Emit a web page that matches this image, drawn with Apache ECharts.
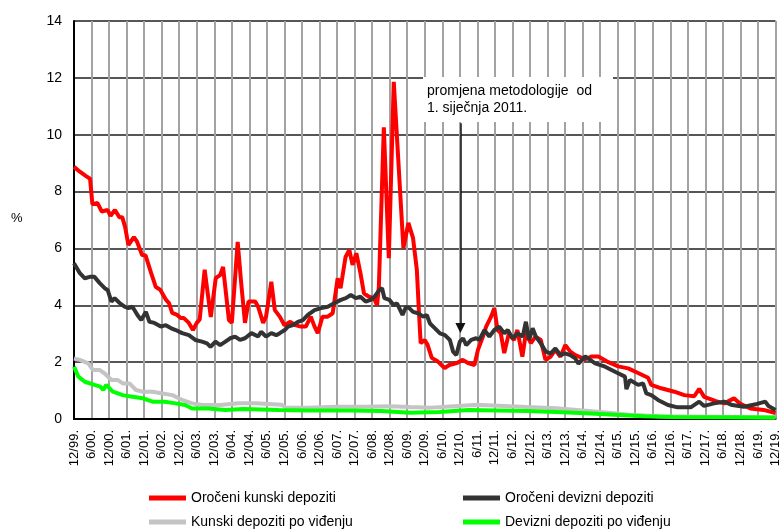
<!DOCTYPE html>
<html>
<head>
<meta charset="utf-8">
<script src="https://cdn.jsdelivr.net/npm/echarts@6/dist/echarts.min.js"></script>
<style>html,body{margin:0;padding:0;background:#fff}#c{width:782px;height:532px}</style>
</head>
<body>
<div id="c"></div>
<script>
// x = months since December 1999
const tickLabels = ["12/99.","6/00.","12/00.","6/01.","12/01.","6/02.","12/02.","6/03.","12/03.","6/04.","12/04.","6/05.","12/05.","6/06.","12/06.","6/07.","12/07.","6/08.","12/08.","6/09.","12/09.","6/10.","12/10.","6/11.","12/11.","6/12.","12/12.","6/13.","12/13.","6/14.","12/14.","6/15.","12/15.","6/16.","12/16.","6/17.","12/17.","6/18.","12/18.","6/19.","12/19."];
const seriesNames = ["Oročeni kunski depoziti","Oročeni devizni depoziti","Kunski depoziti po viđenju","Devizni depoziti po viđenju"];

const orocKunski = [[0,8.87],[2,8.7],[4,8.55],[5.5,8.45],[6.3,7.55],[8,7.6],[9.5,7.3],[11.5,7.35],[12.5,7.15],[14,7.35],[15.5,7.1],[16.5,7.1],[17.5,6.75],[18.6,6.12],[20.5,6.4],[21.5,6.25],[23.3,5.77],[24.5,5.75],[26.4,5.13],[28,4.64],[29.5,4.55],[31.5,4.19],[32.5,4.08],[33.6,3.73],[35.3,3.66],[36.5,3.55],[37.6,3.55],[39.3,3.38],[40.7,3.13],[42,3.38],[43,3.5],[44.7,5.25],[46.8,3.59],[48.5,4.96],[50,5.06],[51,5.35],[53,3.48],[54,3.38],[56,6.23],[57.2,4.78],[58.5,3.38],[59.7,4.13],[62,4.13],[63,3.95],[64.7,3.38],[65.7,3.6],[67.5,4.83],[68.7,3.83],[70.4,3.6],[72,3.3],[74,3.42],[75.7,3.3],[77.6,3.25],[79.3,3.25],[81,3.6],[82.3,3.25],[83.4,3.02],[85,3.6],[86.8,3.6],[88.5,3.72],[90.2,4.95],[91.2,4.6],[92.9,5.7],[94.2,5.95],[95.3,5.42],[96.6,5.83],[98,5.13],[99.2,4.42],[100.9,4.3],[102.6,4.25],[103.7,4.0],[104.3,4.65],[106,10.26],[107.7,5.66],[109.4,11.86],[112.7,6.0],[114.4,6.9],[116,6.36],[117.3,5.24],[118.1,3.6],[118.6,2.67],[120,2.78],[121,2.6],[122.4,2.15],[124.5,2.02],[126.8,1.79],[128.4,1.9],[131,1.97],[133,2.08],[134.8,1.97],[137,1.9],[138.2,2.43],[139.9,2.9],[141,3.25],[142.7,3.6],[143.8,3.9],[144.9,3.13],[146,3.02],[147.2,2.32],[148.8,3.02],[150.5,2.78],[151.7,3.13],[153.4,2.19],[154.6,3.02],[156.3,2.67],[157.9,2.9],[159.7,2.78],[161.3,2.08],[163,2.19],[164.7,2.43],[166.4,2.19],[168.1,2.6],[169.8,2.37],[171.5,2.25],[174.9,2.1],[177,2.2],[179.4,2.2],[182.8,2.0],[186.2,1.85],[189.6,1.78],[193,1.62],[196.4,1.45],[197.5,1.2],[200.9,1.08],[205.4,0.96],[208.8,0.84],[212.2,0.8],[213.9,1.06],[215.6,0.78],[219.6,0.63],[222.5,0.55],[225.8,0.73],[228,0.53],[231.4,0.37],[235.9,0.32],[240,0.21]];

const orocDevizni = [[0,5.48],[2,5.13],[3.7,4.95],[5.4,5.0],[7,5.0],[8.8,4.78],[10.5,4.6],[11.5,4.54],[12.8,4.13],[13.9,4.25],[15.6,4.08],[17.3,3.95],[18.6,3.9],[20,3.95],[21.7,3.66],[23,3.48],[24.6,3.77],[25.8,3.42],[27.5,3.38],[29.7,3.25],[31.4,3.3],[33.1,3.2],[34.8,3.13],[37,3.02],[39.3,2.95],[41.5,2.78],[43.8,2.72],[45.5,2.66],[46.7,2.54],[48.4,2.72],[50,2.6],[51.8,2.72],[53.4,2.84],[55.1,2.9],[56.8,2.78],[58.5,2.84],[60.7,3.02],[63,2.9],[64,3.07],[65.7,2.9],[67.5,3.02],[69.2,2.95],[70.4,3.02],[72.1,3.13],[73.2,3.25],[74.9,3.3],[76.6,3.42],[78.3,3.48],[80,3.66],[82.3,3.83],[84.5,3.9],[86.8,3.95],[89,4.07],[91.3,4.19],[93,4.25],[94.7,4.36],[96.4,4.25],[98,4.3],[99.8,4.13],[101.5,4.19],[102.8,4.3],[104.5,4.54],[105.4,4.6],[106.2,4.25],[107.9,4.19],[109.4,4.0],[110.5,4.07],[112.4,3.66],[113.6,3.95],[114.7,3.9],[116,3.77],[117.7,3.72],[119.5,3.6],[120.7,3.66],[121.8,3.36],[123.5,3.19],[125.2,3.01],[126.9,2.95],[128.6,2.78],[129.7,2.37],[130.8,2.25],[132,2.72],[133.1,2.84],[134.2,2.6],[135.9,2.78],[137.6,2.84],[138.7,2.78],[140.4,3.13],[142.1,2.9],[143.8,3.13],[145.5,3.25],[147.2,3.01],[148.4,3.13],[150,2.84],[151.8,3.01],[153.5,2.9],[154.6,3.42],[155.7,2.78],[156.9,3.19],[158,2.9],[159.7,2.66],[161.4,2.37],[163.1,2.31],[164.7,2.48],[166.4,2.25],[168,2.31],[169.8,2.25],[171.5,2.13],[172.6,1.95],[174.9,2.2],[178.3,1.96],[181.7,1.84],[185.1,1.66],[188.5,1.49],[189,1.05],[190.2,1.37],[193,1.2],[194.7,1.25],[195.8,0.9],[197.5,0.84],[199.8,0.67],[203.2,0.49],[206.5,0.41],[211,0.41],[213.9,0.61],[215.6,0.46],[219,0.55],[222.4,0.61],[225.2,0.49],[229.2,0.43],[233.7,0.53],[236.5,0.61],[237.6,0.46],[240,0.32]];

const kunskiVidjenje = [[0,2.13],[2,2.08],[4.9,1.96],[6.5,1.72],[8.8,1.72],[10.5,1.6],[12.8,1.37],[15,1.37],[16.7,1.25],[19,1.25],[21.2,1.02],[23.5,0.96],[26.9,0.96],[30.3,0.9],[33.7,0.84],[37,0.67],[40.4,0.55],[43.8,0.49],[50,0.49],[56.3,0.55],[62,0.55],[68,0.52],[71,0.5],[72.5,0.4],[80,0.4],[90,0.43],[100,0.43],[108,0.45],[115,0.42],[122,0.4],[130,0.45],[138,0.5],[145,0.47],[155,0.42],[165,0.38],[172,0.32],[180,0.25],[190,0.15],[200,0.1],[215,0.08],[240,0.05]];

const deviznVidjenje = [[0,1.84],[1.5,1.49],[3.7,1.31],[7,1.2],[9,1.14],[10,1.02],[11,1.2],[13.3,0.96],[16.7,0.84],[20,0.78],[23.5,0.73],[26.9,0.61],[31,0.61],[34.8,0.55],[38,0.49],[40.4,0.37],[46,0.37],[51.8,0.32],[58,0.35],[70,0.32],[80,0.3],[95,0.3],[105,0.28],[115,0.22],[125,0.25],[135,0.32],[145,0.3],[155,0.28],[165,0.25],[175,0.2],[185,0.15],[195,0.1],[205,0.07],[220,0.06],[240,0.05]];

const FONT = "Liberation Sans, Arial, sans-serif";
const chart = echarts.init(document.getElementById('c'), null, {renderer: 'canvas'});
function line(name, data, color, z, extra) {
  return Object.assign({
    name: name, type: 'line', data: data, showSymbol: false, symbol: 'none',
    lineStyle: {color: color, width: 4}, itemStyle: {color: color}, z: z,
    animation: false, silent: true
  }, extra || {});
}
const legendCommon = {
  orient: 'vertical', itemWidth: 37, itemHeight: 5, itemGap: 10, icon: 'rect', padding: 0,
  textStyle: {fontSize: 14, color: '#000', fontFamily: FONT}, selectedMode: false
};
chart.setOption({
  animation: false,
  backgroundColor: '#fff',
  grid: {left: 74, right: 0, top: 21, bottom: 113, containLabel: false},
  xAxis: {
    type: 'value', min: 0, max: 240, interval: 6,
    axisLine: {show: true, onZero: false, lineStyle: {color: '#000', width: 2}},
    axisTick: {show: false},
    splitLine: {show: true, lineStyle: {color: '#a3a3a3', width: 2}},
    axisLabel: {
      rotate: 90, margin: 11, fontSize: 13, color: '#000', fontFamily: FONT,
      showMinLabel: true, showMaxLabel: true,
      formatter: function (v) { return tickLabels[Math.round(v / 6)] || ''; }
    }
  },
  yAxis: {
    type: 'value', min: 0, max: 14, interval: 2,
    axisLine: {show: true, lineStyle: {color: '#000', width: 2}},
    axisTick: {show: false},
    splitLine: {show: true, lineStyle: {color: '#1e1e1e', width: 1.5}},
    axisLabel: {margin: 12, fontSize: 14, color: '#000', fontFamily: FONT}
  },
  legend: [
    Object.assign({left: 149, top: 491, data: [seriesNames[0], seriesNames[2]]}, legendCommon),
    Object.assign({left: 463, top: 491, data: [seriesNames[1], seriesNames[3]]}, legendCommon)
  ],
  series: [
    line(seriesNames[0], orocKunski, '#ff0000', 3, {
      markLine: {
        silent: true, animation: false, symbol: ['none', 'triangle'], symbolSize: [10, 10],
        label: {show: false},
        lineStyle: {color: '#111', width: 1.5, type: 'solid'},
        data: [[{coord: [132.2, 10.4]}, {coord: [132.2, 3.2]}]]
      }
    }),
    line(seriesNames[2], kunskiVidjenje, '#c4c4c4', 3),
    line(seriesNames[3], deviznVidjenje, '#00ff00', 4),
    line(seriesNames[1], orocDevizni, '#333333', 5)
  ],
  graphic: [
    {type: 'rect', left: 423, top: 77, shape: {width: 190, height: 45}, style: {fill: '#fff'}, z: 100},
    {type: 'text', left: 427, top: 83, z: 101,
     style: {text: 'promjena metodologije  od\n1. siječnja 2011.', font: '14px ' + FONT, fill: '#000', lineHeight: 17}},
    {type: 'text', left: 11, top: 212, z: 101, style: {text: '%', font: '13px ' + FONT, fill: '#000'}}
  ]
});
</script>
</body>
</html>
